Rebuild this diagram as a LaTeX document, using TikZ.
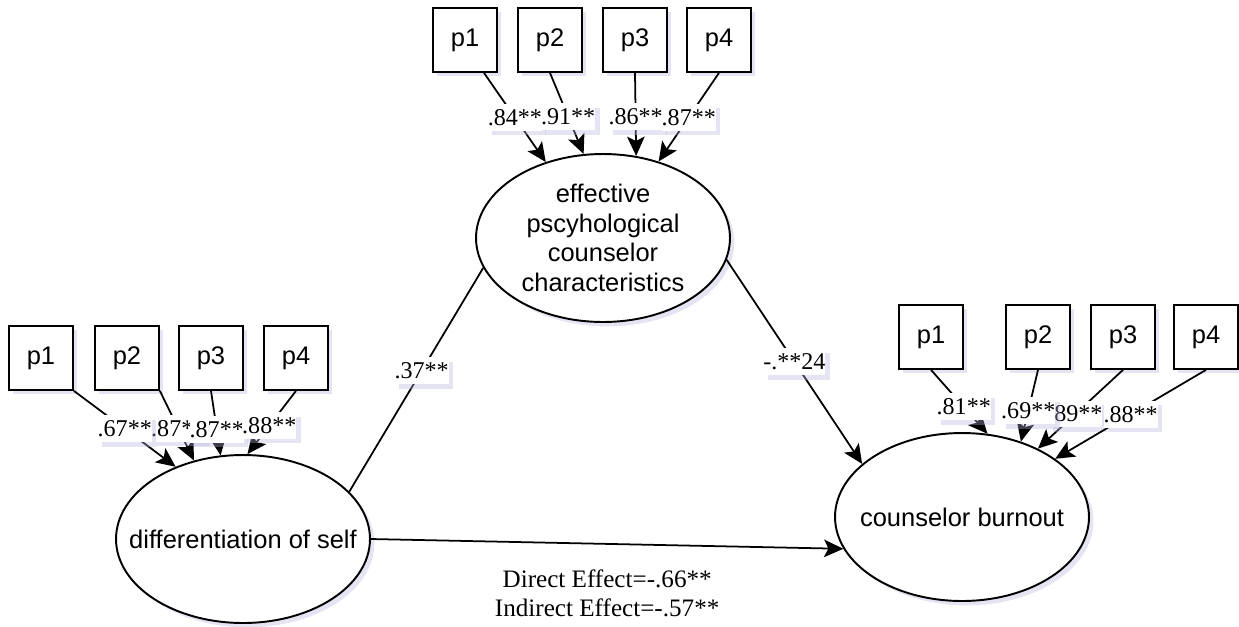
\documentclass[tikz,border=0pt]{standalone}
\usepackage{fontspec}
\setmainfont{Liberation Serif}
\newfontfamily\arialfont{Liberation Sans}
\usetikzlibrary{arrows.meta,shapes.geometric,shadows}

\tikzset{
  softshadow/.style={drop shadow={shadow xshift=2.5pt, shadow yshift=-2.5pt, fill=blue!35!gray!45, opacity=0.35}},
  indicator/.style={draw, line width=1pt, fill=white, minimum size=1.28cm, inner sep=0pt, font=\arialfont\fontsize{14.5}{17}\selectfont, softshadow},
  latent/.style={ellipse, draw, line width=1.1pt, fill=white, minimum width=5.08cm, minimum height=3.36cm, inner sep=0pt, softshadow},
  latenttext/.style={align=center, inner sep=0pt, font=\arialfont\fontsize{14.5}{16.8}\selectfont},
  loading/.style={fill=white, inner xsep=0pt, inner ysep=3pt, font=\fontsize{13.7}{16}\selectfont, softshadow},
  effect/.style={align=center, inner sep=2pt, font=\fontsize{14.3}{17}\selectfont},
  link/.style={line width=1pt, -{Stealth[length=11pt,width=10pt,inset=2.5pt]}},
  plainlink/.style={line width=1pt}
}

\begin{document}
\begin{tikzpicture}[x=0.02cm, y=-0.02cm]
  \useasboundingbox (0,0) rectangle (1239,626);
  \node[latent, label={[latenttext]center:effective\\pscyhological\\counselor\\characteristics}] (eff) at (603,238) {};
  \node[latent, label={[latenttext]center:differentiation of self}] (dif) at (243,539) {};
  \node[latent, label={[latenttext]center:counselor burnout}] (bur) at (962,517) {};

  \node[indicator] (e1) at (465,40) {p1};
  \node[indicator] (e2) at (550,40) {p2};
  \node[indicator] (e3) at (635,40) {p3};
  \node[indicator] (e4) at (719,40) {p4};

  \node[indicator] (d1) at (41,358) {p1};
  \node[indicator] (d2) at (127,358) {p2};
  \node[indicator] (d3) at (211,358) {p3};
  \node[indicator] (d4) at (296,358) {p4};

  \node[indicator] (b1) at (931,337) {p1};
  \node[indicator] (b2) at (1038,337) {p2};
  \node[indicator] (b3) at (1123,337) {p3};
  \node[indicator] (b4) at (1206,337) {p4};

  \draw[link] (e1.-60) -- (eff.127) node[loading, midway] {.84**};
  \draw[link] (e2.south) -- (eff.103) node[loading, pos=0.54] {.91**};
  \draw[link] (e3.south) -- (eff.68) node[loading, pos=0.53] {.86**};
  \draw[link] (e4.south) -- (eff.54) node[loading, midway] {.87**};

  \draw[link] (d2.south east) -- (dif.122) node[loading, pos=0.54] {.87**};
  \draw[link] (d1.south east) -- (dif.133) node[loading, midway] {.67**};
  \draw[link] (d3.south) -- (dif.105) node[loading, pos=0.6] {.87**};
  \draw[link] (d4.south) -- (dif.87) node[loading, pos=0.55] {.88**};

  \draw[link] (b3.south) -- (bur.42) node[loading, pos=0.56] {.89**};
  \draw[link] (b2.south) -- (bur.52) node[loading, pos=0.57] {.69**};
  \draw[link] (b4.south) -- (bur.32) node[loading, pos=0.5] {.88**};
  \draw[link] (b1.south) -- (bur.73) node[loading, pos=0.58] {.81**};

  \draw[plainlink] (dif.24) -- (eff.194) node[loading, pos=0.54] {.37**};
  \draw[link] (eff.350) -- (bur.152) node[loading, midway] {-.**24};
  \draw[link] (dif.east) -- (bur.195) node[effect, midway, below=12pt] {Direct Effect=-.66**\\Indirect Effect=-.57**};
\end{tikzpicture}
\end{document}
